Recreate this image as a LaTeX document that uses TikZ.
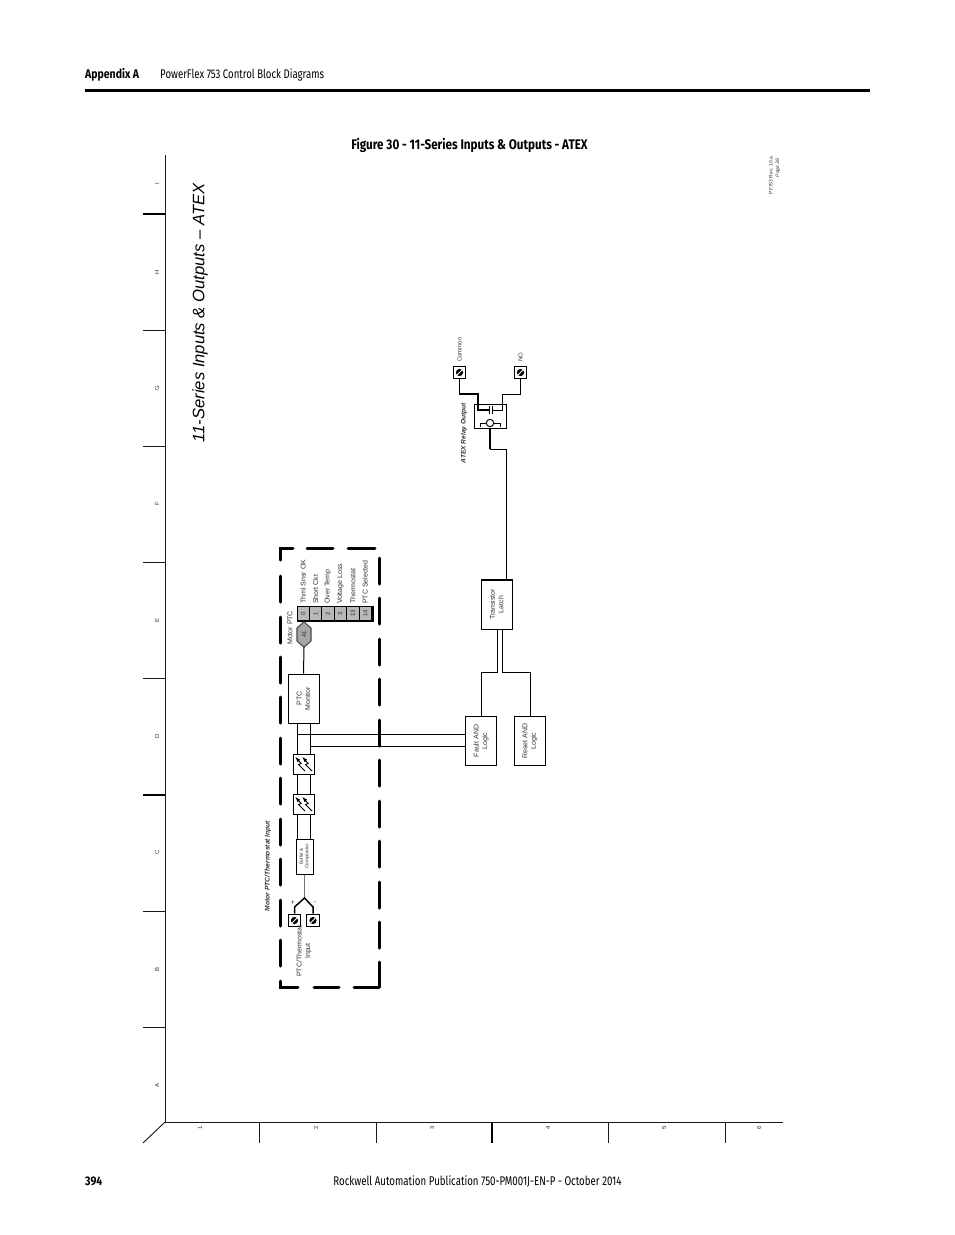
\documentclass[tikz,border=0pt]{standalone}
\usepackage{fontspec}
\setmainfont{Liberation Sans}
\newfontfamily\headfont[FakeStretch=0.77]{Fira Sans}
\newfontfamily\headbold[FakeStretch=0.84]{Fira Sans}
\usetikzlibrary{calc}
\definecolor{lbl}{gray}{0.2}
\tikzset{
  x=1pt,y=-1pt,
  frm/.style={line width=0.9pt,black!90},
  frmthick/.style={line width=1.5pt,black},
  ticklbl/.style={font=\fontsize{6}{7}\selectfont,text=lbl,rotate=90,inner sep=0},
  hd/.style={font=\headfont\fontsize{12.5}{14}\selectfont,text=black,inner sep=0},
  hdb/.style={font=\headbold\bfseries\fontsize{12.5}{14}\selectfont,text=black,inner sep=0},
  dashbox/.style={line width=3pt,black,line cap=round},
  block/.style={draw=black,line width=1pt,fill=white,inner sep=0,align=center,rotate=0},
  txt/.style={font=\fontsize{7}{8.5}\selectfont,text=lbl,rotate=90,align=center,inner sep=0},
  tiny/.style={font=\fontsize{4.6}{5.6}\selectfont,text=lbl,rotate=90,align=center,inner sep=0},
  wire/.style={line width=1pt,black},
  wireb/.style={line width=1.5pt,black},
  term/.style={draw=black,line width=1.3pt,fill=white,minimum size=12.5pt,inner sep=0},
  bitcell/.style={draw=black,line width=0.7pt,fill=black!28,inner sep=0,font=\fontsize{6}{7}\selectfont,text=lbl},
  bitlbl/.style={font=\fontsize{7}{8}\selectfont,text=lbl,rotate=90,anchor=west,inner sep=0},
}
\newcommand{\termsym}[1]{%
  \fill[black] (#1) circle (3.6pt);
  \draw[white,line width=0.8pt] ($(#1)+(-2.6,2.6)$) -- ($(#1)+(2.6,-2.6)$);}
\newcommand{\optosym}[1]{%
  \foreach \dx in {-4.5,2.5}{
    \draw[line width=0.9pt,black] ($(#1)+(\dx-3,-6)$) -- ($(#1)+(\dx+2.2,-0.6)$) -- ($(#1)+(\dx-0.5,0.6)$) -- ($(#1)+(\dx+6,7)$);
    \draw[-latex,line width=0.7pt,black] ($(#1)+(\dx+0.5,-2.5)$) -- ($(#1)+(\dx-3.5,-6.8)$);
  }}
\begin{document}
\begin{tikzpicture}
\useasboundingbox[fill=white] (0,0) rectangle (954,1235);
% page header and footer
\node[hdb,anchor=west] (apx) at (85,75) {Appendix A};
\node[hd,anchor=west] (ttl) at (160,75) {PowerFlex 753 Control Block Diagrams};
\coordinate (rl) at (85,90); \coordinate (rr) at (870,90);
\draw[line width=3pt,black] (rl) -- (rr);
\node[hdb,font=\headbold\bfseries\fontsize{13.9}{15}\selectfont] (fig) at (469.5,145.5) {Figure 30 - 11-Series Inputs \& Outputs - ATEX};
\node[hdb,anchor=west] (pg) at (85,1181) {394};
\node[hd,font=\headfont\fontsize{12.6}{15}\selectfont] (pub) at (477.5,1181.5) {Rockwell Automation Publication 750-PM001J-EN-P - October 2014};
% frame
\draw[frm] (165,155) -- (165,1122) -- (783,1122);
\draw[frm] (165,1122) -- (143,1143);
\foreach \y in {330,446,562,678,911,1027} \draw[frm] (143,\y) -- (165,\y);
\foreach \y in {214,795} \draw[frmthick] (143,\y) -- (165,\y);
\foreach \x in {259,376,608,725} \draw[frm] (\x,1122) -- (\x,1143);
\draw[frmthick] (492,1122) -- (492,1143);
\foreach \y/\t in {184/I,272/H,388/G,504/F,620/E,736/D,852/C,969/B,1085/A}
  \node[ticklbl] at (157,\y) {\t};
\foreach \x/\t in {200/1,316/2,432/3,548/4,664/5,759/6}
  \node[ticklbl] at (\x,1128) {\t};
% titles
\node[rotate=90,inner sep=0,font=\itshape\fontsize{16.6}{20}\selectfont,text=black] (main) at (200,313) {11-Series Inputs \& Outputs -- ATEX};
\node[rotate=90,inner sep=0,font=\fontsize{5}{6}\selectfont,text=lbl] (rev) at (771,175.5) {PF753 Rev. 10.a};
\node[rotate=90,inner sep=0,font=\itshape\fontsize{5}{6}\selectfont,text=lbl] (page) at (778,168) {Page 38};
% dashed enclosure
\draw[dashbox] (293,548) -- (280,548) -- (280,560);
\foreach \a/\b in {307/333,348/375} \draw[dashbox] (\a,548) -- (\b,548);
\foreach \a in {576,617,657,697,738,778,819,859,900,940} \draw[dashbox] (280,\a) -- (280,\a+26);
\draw[dashbox] (280,981) -- (280,987) -- (298,987);
\foreach \a/\b in {314/339,354/379} \draw[dashbox] (\a,987) -- (\b,987);
\draw[dashbox] (379,987) -- (379,962);
\foreach \a in {558,598,639,679,720,760,801,841,882,922} \draw[dashbox] (379,\a) -- (379,\a+26);
% blocks
\node[block,minimum width=31pt,minimum height=49pt] (ptc) at (303.5,698.5) {};
\node[txt] at (ptc) {PTC\\Monitor};
\node[block,minimum width=17pt,minimum height=35pt] (buf) at (304.5,856.5) {};
\node[tiny] at (buf) {Buffer \&\\Comparator};
\node[block,minimum width=31.5pt,minimum height=49pt] (fault) at (481,741) {};
\node[txt] at (fault) {Fault AND\\Logic};
\node[block,minimum width=31.5pt,minimum height=49pt] (reset) at (530,741) {};
\node[txt] at (reset) {Reset AND\\Logic};
\node[block,minimum width=31pt,minimum height=49pt] (latch) at (496.5,604.5) {};
\draw[line width=2pt,black] (latch.north west) -- (latch.north east);
\node[txt] at (latch) {Transistor\\Latch};
\node[block,minimum width=32pt,minimum height=24pt] (relay) at (490,416) {};
% terminals
\node[term] (tcom) at (459.5,372.5) {};
\node[term] (tno) at (520.5,372.5) {};
\node[term] (tpl) at (294.5,920.5) {};
\node[term] (tmi) at (313,920.5) {};
\foreach \n in {tcom,tno,tpl,tmi} \termsym{\n};
% bit table and hexagon
\foreach \x/\t in {303.2/0,315.6/1,328/2,340.4/3,352.8/13,365.2/14}
  \node[bitcell,rotate=90,minimum width=15pt,minimum height=12.4pt] (b\t) at (\x,613.5) {\t};
\draw[line width=1.6pt,black] (297,621) -- (373,621) -- (373,606);
\draw[line width=0.8pt,black] (297,606) -- (373,606);
\node[bitlbl] at (303.2,604) {Thml Snsr OK};
\node[bitlbl] at (315.6,604) {Short Ckt};
\node[bitlbl] at (328,604) {Over Temp};
\node[bitlbl] at (340.4,604) {Voltage Loss};
\node[bitlbl] at (352.8,604) {Thermostat};
\node[bitlbl] at (365.2,604) {PTC Selected};
\node[minimum width=14pt,minimum height=25pt,inner sep=0] (hex) at (304,634.5) {};
\fill[black!35,draw=black!70,line width=1.1pt] (hex.north) -- (311,628) -- (311,641) -- (hex.south) -- (297,641) -- (297,628) -- cycle;
\node[font=\fontsize{6}{7}\selectfont,text=lbl,rotate=90,inner sep=0] at (hex) {41};
\node[txt,anchor=west] (mptc) at (290,645) {Motor PTC};
\node[txt,font=\bfseries\itshape\fontsize{6.7}{7}\selectfont] (mtherm) at (268,866) {Motor PTC/Thermostat Input};
\node[txt] (ptclab) at (304,951) {PTC/Thermostat\\Input};
\node[tiny,font=\fontsize{7}{7}\selectfont,rotate=0] at (293,902) {+};
\node[tiny,font=\fontsize{7}{7}\selectfont,rotate=90] at (315,902) {-};
\node[txt,font=\fontsize{6}{7}\selectfont,anchor=west] (lcom) at (459.5,362) {Common};
\node[txt,font=\fontsize{6}{7}\selectfont,anchor=west] (lno) at (520.5,362) {NO};
\node[txt,font=\bfseries\itshape\fontsize{6.6}{7}\selectfont] (lrel) at (464,433) {ATEX Relay Output};
% wires
\draw[wire] (hex.south) -- (ptc.north);
\coordinate (pa) at (297,723.5); \coordinate (pb) at (310,723.5);
\draw[wire] (pa) -- (297,839);
\draw[wire] (pb) -- (310,839);
\draw[wire] (297,734) -- (fault.west |- 0,734);
\draw[wire] (310,746) -- (fault.west |- 0,746);
% opto blocks sit on the wires
\node[block,minimum width=21pt,minimum height=20pt] (opa) at (303.5,764) {};
\node[block,minimum width=21pt,minimum height=20pt] (opb) at (303.5,804) {};
\optosym{opa} \optosym{opb}
\draw[line width=1.3pt,black!55] (buf.south) -- (304.5,898);
\coordinate (fork) at (304.5,898);
\draw[wireb] (tpl.north) -- (294.5,907) -- (fork) -- (313,907) -- (tmi.north);
\draw[wire] (497,629) -- (497,672) -- (481,672) -- (fault.north -| 481,0);
\draw[wire] (502,629) -- (502,672) -- (530,672) -- (reset.north);
\draw[wire] (506,580) -- (506,449) -- (490,449) -- (relay.south);
% relay contents and wiring
\draw[wireb] (tcom.south) -- (459.5,394) -- (478,394) -- (478,410) -- (489,410);
\draw[wire] (tno.south) -- (520.5,394) -- (502,394) -- (502,410) -- (492,410);
\draw[wire] (489,406) -- (489,414);
\draw[wire] (492,406) -- (492,414);
\coordinate (coil) at (490,423);
\draw[wire] (480,427) -- (480,423) -- (486,423);
\draw[wire] (494,423) -- (500,423) -- (500,427);
\draw[wire] (coil) circle (3.7pt);
\draw[wireb] (relay.south) -- (490,449);
\end{tikzpicture}
\end{document}
